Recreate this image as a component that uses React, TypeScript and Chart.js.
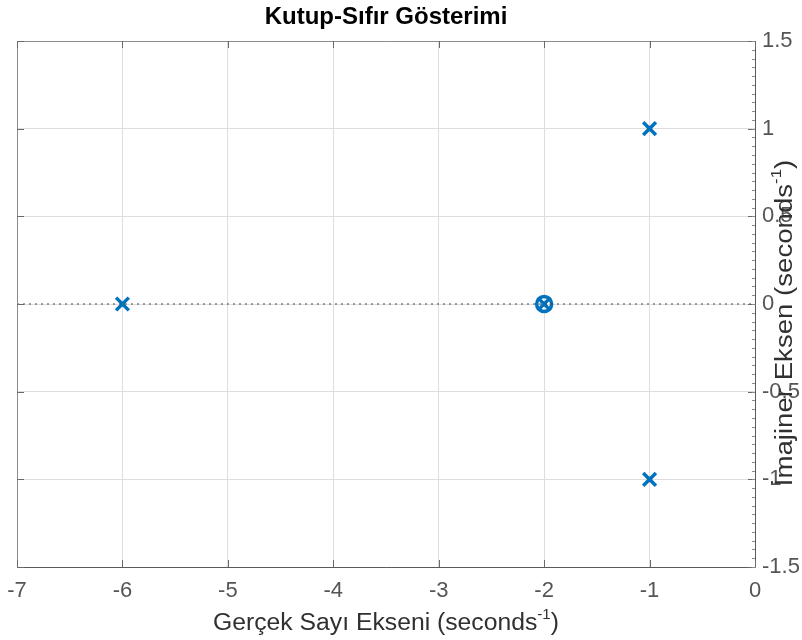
import { useEffect, useRef } from 'react';
import { Chart, registerables } from 'chart.js';
Chart.register(...registerables);

const poleReal = [-6, -2, -1, -1];
const poleImag = [0, 0, 1, -1];
const zeroReal = [-2];
const zeroImag = [0];
const xLimits = [-7, 0];
const yLimits = [-1.5, 1.5];
const xStep = 1;
const yStep = 0.5;
const yMinorStep = 0.05;
const titleText = 'Kutup-Sıfır Gösterimi';
const xLabelText = 'Gerçek Sayı Ekseni (seconds';
const yLabelText = 'İmajiner Eksen (seconds';
const unitExp = '-1';

const FONT = '"Liberation Sans", Arial, sans-serif';
const BLUE = '#0072BD';
const LABEL_SIZE = 23;
const TICK_SIZE = 22;

function drawLabelWithExp(ctx: CanvasRenderingContext2D, base: string, size: number, stretch: number) {
  ctx.scale(stretch, 1);
  const es = Math.round(size * 0.6);
  ctx.font = `${size}px ${FONT}`;
  const wBase = ctx.measureText(base).width;
  ctx.font = `${es}px ${FONT}`;
  const wExp = ctx.measureText(unitExp).width;
  ctx.font = `${size}px ${FONT}`;
  const wClose = ctx.measureText(')').width;
  const total = wBase + wExp + wClose;
  let x = -total / 2;
  ctx.textAlign = 'left';
  ctx.textBaseline = 'middle';
  ctx.fillText(base, x, 0);
  x += wBase;
  ctx.font = `${es}px ${FONT}`;
  ctx.fillText(unitExp, x, -size * 0.38);
  x += wExp;
  ctx.font = `${size}px ${FONT}`;
  ctx.fillText(')', x, 0);
}

const decorPlugin = {
  id: 'decor',
  afterDraw(chart: any) {
    const { ctx, chartArea: a, scales } = chart;
    const xs = scales.x;
    const ys = scales.y;
    ctx.save();
    ctx.lineWidth = 1;
    ctx.strokeStyle = '#8c8c8c';
    ctx.beginPath();
    ctx.moveTo(a.left + 0.5, a.bottom);
    ctx.lineTo(a.left + 0.5, a.top + 0.5);
    ctx.lineTo(a.right, a.top + 0.5);
    ctx.stroke();
    ctx.strokeStyle = '#5a5a5a';
    ctx.beginPath();
    ctx.moveTo(a.right + 0.5, a.top);
    ctx.lineTo(a.right + 0.5, a.bottom + 0.5);
    ctx.lineTo(a.left, a.bottom + 0.5);
    ctx.stroke();
    const tl = 7;
    ctx.strokeStyle = '#6a6a6a';
    ctx.beginPath();
    for (let v = xLimits[0]; v <= xLimits[1] + 1e-9; v += xStep) {
      const px = Math.round(xs.getPixelForValue(v)) + 0.5;
      ctx.moveTo(px, a.bottom);
      ctx.lineTo(px, a.bottom - tl);
      ctx.moveTo(px, a.top);
      ctx.lineTo(px, a.top + tl);
    }
    for (let v = yLimits[0]; v <= yLimits[1] + 1e-9; v += yStep) {
      const py = Math.round(ys.getPixelForValue(v)) + 0.5;
      ctx.moveTo(a.left, py);
      ctx.lineTo(a.left + tl, py);
      ctx.moveTo(a.right, py);
      ctx.lineTo(a.right - tl, py);
    }
    ctx.stroke();
    ctx.strokeStyle = '#8a8a8a';
    ctx.beginPath();
    const n = Math.round((yLimits[1] - yLimits[0]) / yMinorStep);
    for (let i = 0; i <= n; i++) {
      const v = yLimits[0] + i * yMinorStep;
      const py = Math.round(ys.getPixelForValue(v)) + 0.5;
      ctx.moveTo(a.right, py);
      ctx.lineTo(a.right - 3, py);
    }
    ctx.stroke();
    ctx.fillStyle = '#000';
    ctx.font = `bold 24px ${FONT}`;
    ctx.textAlign = 'center';
    ctx.textBaseline = 'middle';
    ctx.fillText(titleText, (a.left + a.right) / 2, 17);
    ctx.fillStyle = '#303030';
    ctx.save();
    ctx.translate((a.left + a.right) / 2, 624);
    drawLabelWithExp(ctx, xLabelText, LABEL_SIZE, 1.075);
    ctx.restore();
    ctx.save();
    ctx.translate(786, 323);
    ctx.rotate(-Math.PI / 2);
    drawLabelWithExp(ctx, yLabelText, LABEL_SIZE, 1.2);
    ctx.restore();
    ctx.restore();
  },
};

export default function App() {
  const ref = useRef<HTMLCanvasElement>(null);
  useEffect(() => {
    document.body.style.margin = '0';
    const canvas = ref.current!;
    const poles = poleReal.map((x, i) => ({ x, y: poleImag[i] }));
    const zeros = zeroReal.map((x, i) => ({ x, y: zeroImag[i] }));
    const chart = new Chart(canvas, {
      type: 'scatter',
      data: {
        datasets: [
          {
            type: 'line',
            data: [
              { x: xLimits[0], y: 0 },
              { x: xLimits[1], y: 0 },
            ],
            borderColor: '#444',
            borderWidth: 1,
            borderDash: [2, 4],
            pointRadius: 0,
            showLine: true,
          } as any,
          {
            data: zeros,
            pointStyle: 'circle',
            pointRadius: 7.5,
            borderWidth: 3.5,
            borderColor: BLUE,
            backgroundColor: 'rgba(0,0,0,0)',
          },
          {
            data: poles,
            pointStyle: 'crossRot',
            pointRadius: 9,
            borderWidth: 3.5,
            borderColor: BLUE,
            backgroundColor: BLUE,
          },
        ],
      },
      options: {
        responsive: false,
        animation: false,
        layout: { padding: { left: 17, top: 41, right: 0, bottom: 0 } },
        plugins: { legend: { display: false }, tooltip: { enabled: false }, title: { display: false } },
        scales: {
          x: {
            type: 'linear',
            min: xLimits[0],
            max: xLimits[1],
            afterFit: (s: any) => { s.height = 73; s.paddingLeft = 0; s.paddingRight = 0; },
            ticks: { stepSize: xStep, color: '#555555', font: { family: FONT, size: TICK_SIZE }, padding: 11, maxRotation: 0 },
            grid: { color: '#dedede', drawTicks: false },
            border: { display: false },
          },
          y: {
            type: 'linear',
            position: 'right',
            min: yLimits[0],
            max: yLimits[1],
            afterFit: (s: any) => { s.width = 47; s.paddingTop = 0; s.paddingBottom = 0; },
            ticks: {
              stepSize: yStep,
              color: '#555555',
              font: { family: FONT, size: TICK_SIZE },
              padding: 7,
              callback: (v: any) => String(Number(v)),
            },
            grid: { color: '#dedede', drawTicks: false },
            border: { display: false },
          },
        },
      },
      plugins: [decorPlugin],
    });
    return () => chart.destroy();
  }, []);
  return <canvas ref={ref} width={802} height={640} />;
}
